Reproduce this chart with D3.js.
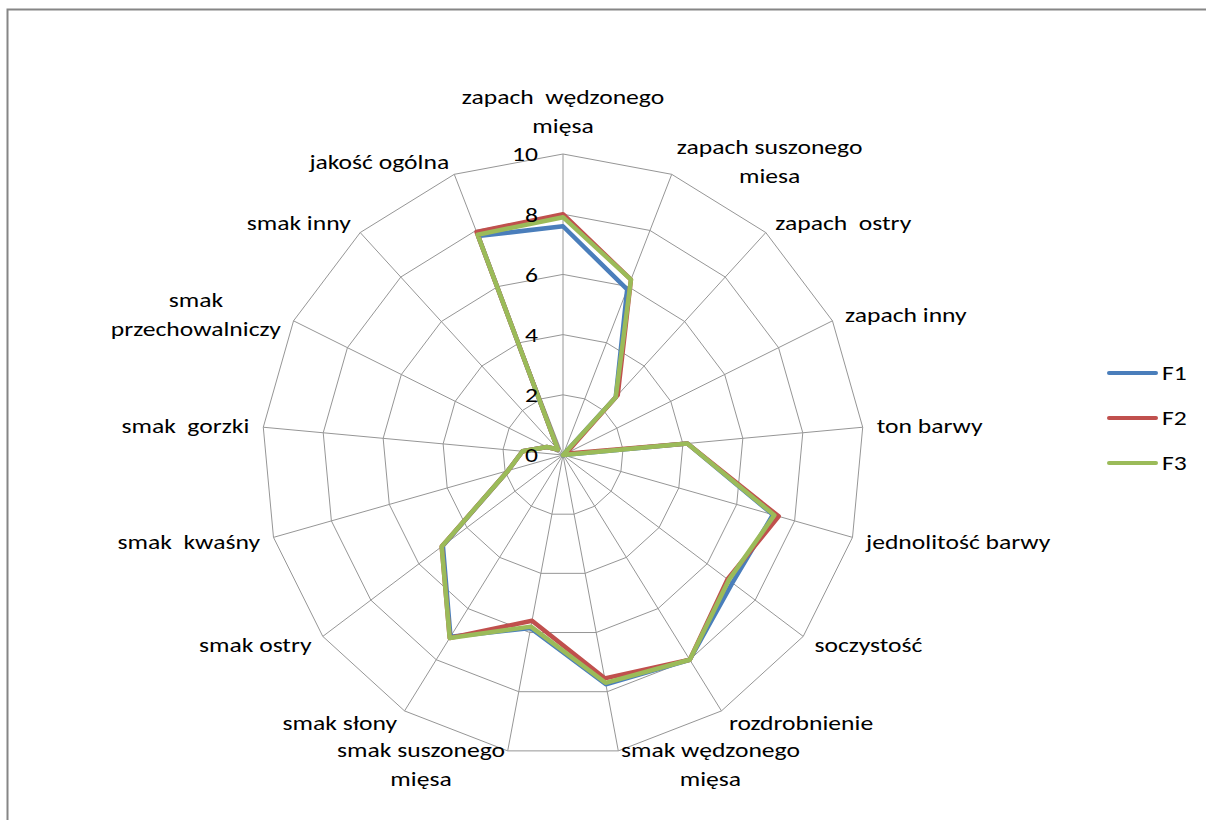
<!DOCTYPE html>
<html>
<head>
<meta charset="utf-8">
<script src="https://cdn.jsdelivr.net/npm/d3@7"></script>
<style>
  html, body { margin: 0; padding: 0; background: #fff; }
  svg { display: block; }
  text { font-family: Carlito, Lato, "Liberation Sans", sans-serif; fill: #000; }
</style>
</head>
<body>
<svg id="chart" width="1206" height="820"></svg>
<script>
// ---- data ----
const categories = [
  ["zapach  wędzonego", "mięsa"],
  ["zapach suszonego", "miesa"],
  ["zapach  ostry"],
  ["zapach inny"],
  ["ton barwy"],
  ["jednolitość barwy"],
  ["soczystość"],
  ["rozdrobnienie"],
  ["smak wędzonego", "mięsa"],
  ["smak suszonego", "mięsa"],
  ["smak słony"],
  ["smak ostry"],
  ["smak  kwaśny"],
  ["smak  gorzki"],
  ["smak", "przechowalniczy"],
  ["smak inny"],
  ["jakość ogólna"]
];
const seriesNames = ["F1", "F2", "F3"];
const F1 = [7.6, 5.9, 2.6, 0, 4.15, 7.25, 7.05, 8.0, 7.75, 5.85, 7.1, 5.0, 1.9, 1.35, 0.6, 0.25, 7.8];
const F2 = [8.0, 6.25, 2.7, 0.1, 4.15, 7.45, 6.85, 8.0, 7.55, 5.6, 7.15, 5.05, 1.9, 1.35, 0.6, 0.25, 7.95];
const F3 = [7.9, 6.25, 2.6, 0, 4.15, 7.3, 6.9, 8.0, 7.7, 5.8, 7.15, 5.05, 1.9, 1.35, 0.6, 0.25, 7.85];
const tickValues = [0, 2, 4, 6, 8, 10];
const seriesColors = ["#4A7EBB", "#C0504D", "#9BBB59"];

// ---- layout ----
const svg = d3.select("#chart");
const cx = 563, cy = 455, R = 301;
const fontSize = 21;
const sx = 1.22;           // horizontal text stretch seen in the reference
const N = categories.length;

// chart frame
svg.append("rect")
  .attr("x", 7.5).attr("y", 9.5)
  .attr("width", 1230).attr("height", 840)
  .attr("fill", "#fff").attr("stroke", "#868686").attr("stroke-width", 2);

const r = d3.scaleLinear().domain([0, 10]).range([0, R]);
const angle = d3.scaleLinear().domain([0, N]).range([0, 2 * Math.PI]);

const g = svg.append("g").attr("transform", `translate(${cx},${cy})`);

function pt(i, v) {
  const a = angle(i);
  return [r(v) * Math.sin(a), -r(v) * Math.cos(a)];
}

// ring gridlines (polygons)
const ringLine = d3.line().curve(d3.curveLinearClosed);
g.selectAll("path.ring").data(tickValues.filter(t => t > 0)).enter()
  .append("path").attr("class", "ring")
  .attr("d", t => ringLine(d3.range(N).map(i => pt(i, t))))
  .attr("fill", "none").attr("stroke", "#969696").attr("stroke-width", 1);

// spokes
g.selectAll("line.spoke").data(d3.range(N)).enter()
  .append("line").attr("class", "spoke")
  .attr("x1", 0).attr("y1", 0)
  .attr("x2", i => pt(i, 10)[0]).attr("y2", i => pt(i, 10)[1])
  .attr("stroke", "#969696").attr("stroke-width", 1);

// series
const series = [F1, F2, F3];
const lineGen = d3.line().curve(d3.curveLinearClosed);
series.forEach((vals, s) => {
  g.append("path")
    .attr("d", lineGen(vals.map((v, i) => pt(i, v))))
    .attr("fill", "none")
    .attr("stroke", seriesColors[s])
    .attr("stroke-width", 4.5)
    .attr("stroke-linejoin", "round");
});

// tick labels
g.selectAll("g.tick").data(tickValues).enter()
  .append("g").attr("class", "tick")
  .attr("transform", t => `translate(-25,${-r(t)}) scale(${sx},1)`)
  .append("text")
  .attr("dy", "0.35em")
  .attr("text-anchor", "end")
  .attr("font-size", fontSize)
  .text(t => t);

// category labels
const lineH = 29;
categories.forEach((lines, i) => {
  const a = angle(i);
  const s = Math.sin(a), c = Math.cos(a);
  const [vx, vy] = pt(i, 10);
  const px = vx + 14 * s, py = vy - 14 * c;
  let y0;
  if (Math.abs(s) < 0.1) {
    y0 = py - (lines.length - 1) * lineH - 14;
  } else {
    y0 = py - (lines.length - 1) * lineH / 2;
  }
  const lg = g.append("g");
  const t = lg.append("text")
    .attr("text-anchor", "middle")
    .attr("font-size", fontSize);
  lines.forEach((ln, k) => {
    t.append("tspan")
      .attr("x", 0)
      .attr("y", k * lineH)
      .attr("dy", "0.35em")
      .style("white-space", "pre")
      .text(ln);
  });
  // block width, lines centred within the block
  let W = 0;
  t.selectAll("tspan").each(function () { W = Math.max(W, this.getComputedTextLength()); });
  const bw = W * sx;
  let bx;
  if (Math.abs(s) < 0.1) bx = px;
  else if (s > 0) bx = px + bw / 2;
  else bx = px - bw / 2;
  lg.attr("transform", `translate(${bx},${y0}) scale(${sx},1)`);
});

// legend
const legend = svg.append("g");
seriesNames.forEach((name, s) => {
  const ly = 373 + s * 45;
  legend.append("line")
    .attr("x1", 1109).attr("x2", 1156)
    .attr("y1", ly).attr("y2", ly)
    .attr("stroke", seriesColors[s]).attr("stroke-width", 4)
    .attr("stroke-linecap", "round");
  legend.append("g")
    .attr("transform", `translate(1162,${ly}) scale(${sx},1)`)
    .append("text")
    .attr("dy", "0.35em")
    .attr("font-size", fontSize)
    .text(name);
});
</script>
</body>
</html>
